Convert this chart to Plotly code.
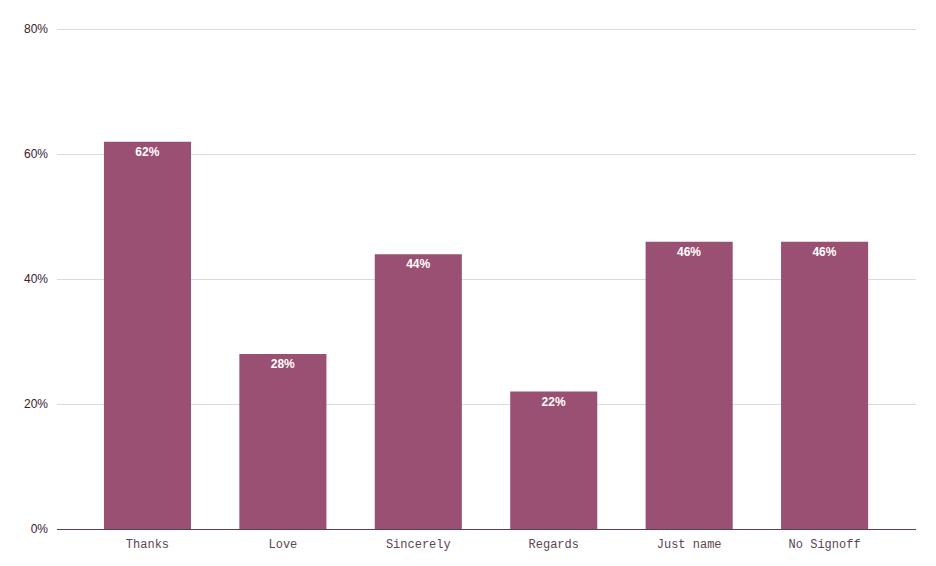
import plotly.graph_objects as go

# Sign-off usage share
signoffs = ["Thanks", "Love", "Sincerely", "Regards", "Just name", "No Signoff"]
shares = [0.62, 0.28, 0.44, 0.22, 0.46, 0.46]
labels = ["62%", "28%", "44%", "22%", "46%", "46%"]

BAR_COLOR = "#9a5072"

fig = go.Figure(
    go.Bar(
        x=signoffs,
        y=shares,
        text=labels,
        textposition="inside",
        insidetextanchor="end",
        textangle=0,
        textfont=dict(family="Liberation Sans, Arial", size=12, color="white", weight="bold"),
        marker=dict(color=BAR_COLOR, line=dict(width=0)),
        width=0.643,
        hoverinfo="skip",
    )
)

# page body adds an 8px offset, margins compensate for it
fig.update_layout(
    width=936,
    height=566,
    margin=dict(l=49, r=28, t=20, b=45),
    plot_bgcolor="white",
    paper_bgcolor="white",
    showlegend=False,
    xaxis=dict(
        range=[-0.668, 5.675],
        showgrid=False,
        showline=True,
        linecolor="#5a4050",
        linewidth=1,
        ticks="",
        ticklabelstandoff=4,
        tickfont=dict(family="Liberation Mono, Courier New, monospace", size=12, color="#5a4552"),
    ),
    yaxis=dict(
        range=[0, 0.802],
        tickvals=[0, 0.2, 0.4, 0.6, 0.8],
        tickformat=".0%",
        showgrid=True,
        gridcolor="#dadada",
        zeroline=False,
        ticks="",
        ticklabelstandoff=8,
        tickfont=dict(family="Liberation Sans, Arial", size=12, color="#3a2030"),
    ),
)

fig.write_html("out.html")
